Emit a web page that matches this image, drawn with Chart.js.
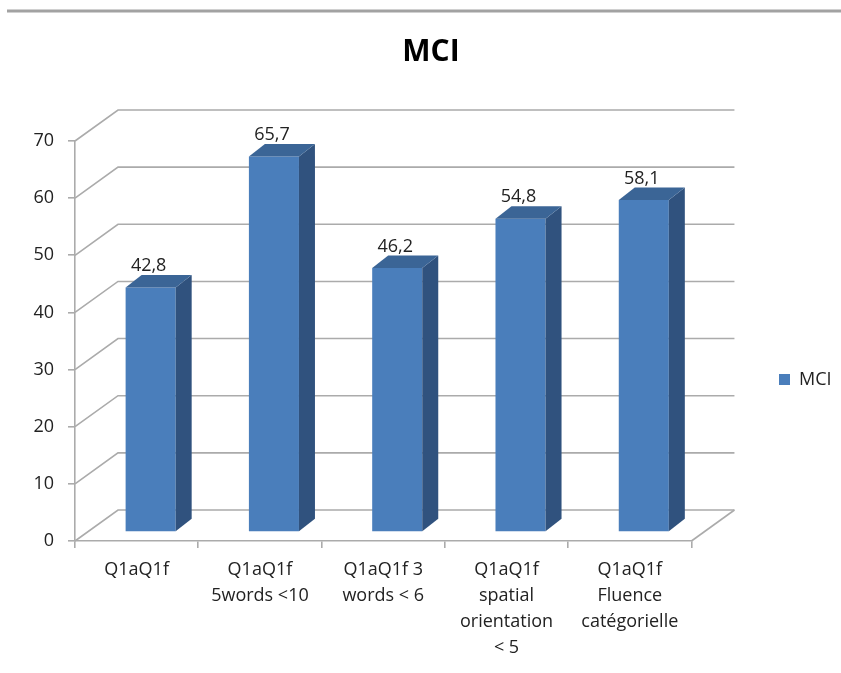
<!DOCTYPE html>
<html>
<head>
<meta charset="utf-8">
<script src="https://cdn.jsdelivr.net/npm/chart.js@4.4.0/dist/chart.umd.min.js"></script>
<style>
  html, body { margin: 0; padding: 0; background: #fff; }
</style>
</head>
<body>
<canvas id="mciChart" width="841" height="673"></canvas>
<script>
const categories = [
    'Q1aQ1f',
    ['Q1aQ1f', '5words <10'],
    ['Q1aQ1f 3', 'words < 6'],
    ['Q1aQ1f', 'spatial', 'orientation', '< 5'],
    ['Q1aQ1f', 'Fluence', 'catégorielle']
];
const mciValues = [42.8, 65.7, 46.2, 54.8, 58.1];
const yTicks = [0, 10, 20, 30, 40, 50, 60, 70];

const frontColor = '#4a7ebb';
const sideColor = '#30527e';
const topColor = '#3b6596';
const gridColor = '#ababab';
const font = 'Open Sans';

// fake 3d: bar depth, back wall offset, bar plane offset
const depth = { dx: 16, dy: -12.5 };
const wall = { dx: 43, dy: -31 };
const shift = { dx: 14, dy: -9 };

const fmt = v => String(v).replace('.', ',');

const chart3d = {
    id: 'chart3d',
    afterLayout(chart) {
        // legend and title sit where excel put them
        const lg = chart.legend;
        const dx = 779 - (lg.left + 10);
        lg.left += dx;
        lg.right += dx;
        lg.top += 43;
        lg.bottom += 43;
        const tb = chart.titleBlock;
        const tdx = 431 - (tb.left + tb.right) / 2;
        tb.left += tdx;
        tb.right += tdx;
    },
    beforeDatasetsDraw(chart) {
        const { ctx, chartArea: a, scales: { y } } = chart;
        ctx.save();
        ctx.strokeStyle = gridColor;
        ctx.lineWidth = 1.6;
        yTicks.forEach(v => {
            const py = y.getPixelForValue(v);
            ctx.beginPath();
            ctx.moveTo(a.left, py);
            ctx.lineTo(a.left + wall.dx, py + wall.dy);
            ctx.lineTo(a.right + wall.dx, py + wall.dy);
            ctx.stroke();
        });
        ctx.beginPath();
        ctx.moveTo(a.right, a.bottom);
        ctx.lineTo(a.right + wall.dx, a.bottom + wall.dy);
        ctx.stroke();
        ctx.restore();
        ctx.save();
        ctx.translate(shift.dx, shift.dy);
    },
    afterDatasetsDraw(chart) {
        const ctx = chart.ctx;
        ctx.restore();
        const meta = chart.getDatasetMeta(0);
        ctx.save();
        meta.data.forEach((bar, i) => {
            const l = bar.x - bar.width / 2 + shift.dx;
            const r = bar.x + bar.width / 2 + shift.dx;
            const t = bar.y + shift.dy;
            const b = bar.base + shift.dy;
            ctx.fillStyle = sideColor;
            ctx.beginPath();
            ctx.moveTo(r, t);
            ctx.lineTo(r + depth.dx, t + depth.dy);
            ctx.lineTo(r + depth.dx, b + depth.dy);
            ctx.lineTo(r, b);
            ctx.closePath();
            ctx.fill();
            ctx.fillStyle = topColor;
            ctx.beginPath();
            ctx.moveTo(l, t);
            ctx.lineTo(l + depth.dx, t + depth.dy);
            ctx.lineTo(r + depth.dx, t + depth.dy);
            ctx.lineTo(r, t);
            ctx.closePath();
            ctx.fill();
            ctx.fillStyle = '#222';
            ctx.font = '18px "' + font + '"';
            ctx.textAlign = 'center';
            ctx.textBaseline = 'alphabetic';
            ctx.fillText(fmt(mciValues[i]), (l + r) / 2 - 2, t + depth.dy - 4);
        });
        ctx.restore();
    },
    afterDraw(chart) {
        const ctx = chart.ctx;
        ctx.save();
        ctx.strokeStyle = '#a2a2a2';
        ctx.lineWidth = 3;
        ctx.beginPath();
        ctx.moveTo(7, 11);
        ctx.lineTo(841, 11);
        ctx.stroke();
        ctx.restore();
    }
};

const configMci = {
    type: 'bar',
    data: {
        labels: categories,
        datasets: [{
            label: 'MCI',
            data: mciValues,
            backgroundColor: frontColor,
            borderWidth: 0,
            categoryPercentage: 1,
            barPercentage: 0.406
        }]
    },
    options: {
        responsive: false,
        animation: false,
        layout: { padding: { top: 0, right: 77, bottom: 0, left: 0 } },
        plugins: {
            title: {
                display: true,
                text: 'MCI',
                color: '#000',
                font: { family: font, size: 30, weight: 'bold' },
                padding: { top: 34, bottom: 71 }
            },
            legend: {
                position: 'right',
                labels: {
                    boxWidth: 11,
                    boxHeight: 11,
                    padding: 10,
                    color: '#222',
                    font: { family: font, size: 18 }
                }
            },
            tooltip: { enabled: false }
        },
        scales: {
            x: {
                grid: { offset: true, drawOnChartArea: false, tickLength: 7, color: gridColor, lineWidth: 1.6 },
                border: { display: true, color: gridColor, width: 1.6 },
                ticks: { padding: 9, color: '#222', font: { family: font, size: 18, lineHeight: '26px' } },
                afterFit(s) { s.height = 132; }
            },
            y: {
                min: 0,
                max: 70,
                grid: { drawOnChartArea: false, tickLength: 7, color: gridColor, lineWidth: 1.6 },
                border: { display: true, color: gridColor, width: 1.6 },
                ticks: { stepSize: 10, padding: 14, color: '#222', font: { family: font, size: 18 } },
                afterFit(s) { s.width = 75; }
            }
        }
    },
    plugins: [chart3d]
};

const mciChart = new Chart(
    document.getElementById('mciChart'),
    configMci
);
</script>
</body>
</html>
